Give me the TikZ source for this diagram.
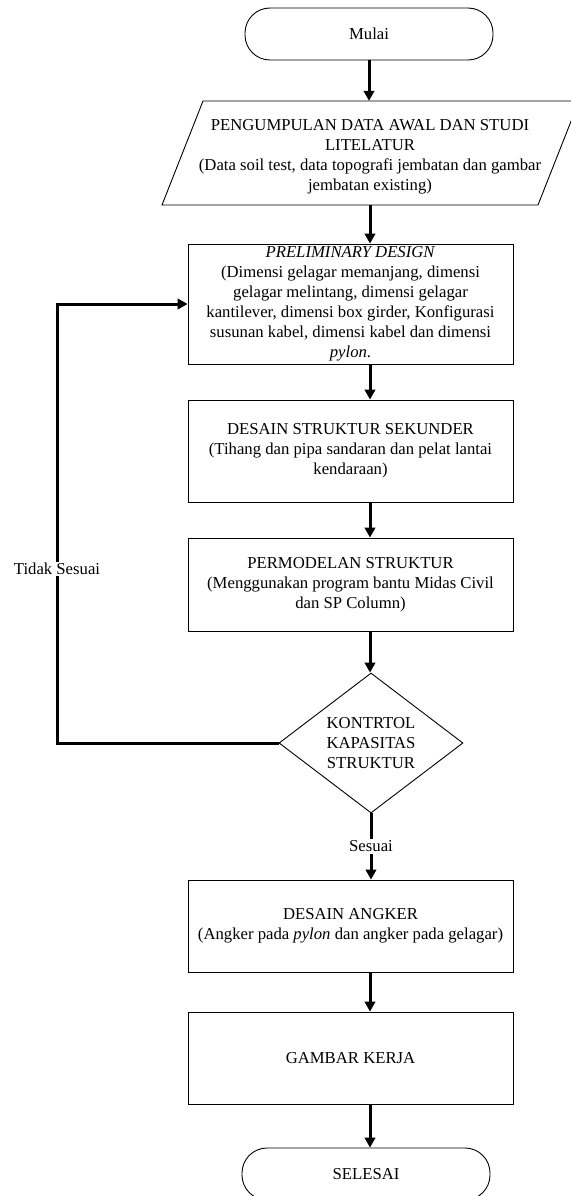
\documentclass[tikz,border=0pt]{standalone}
\usepackage{fontspec}
\setmainfont{Liberation Serif}
\usetikzlibrary{arrows.meta,shapes.geometric}
\begin{document}
\begin{tikzpicture}[x=1pt,y=-1pt,
  every node/.style={font=\fontsize{16.7}{20}\selectfont, align=center},
  procbox/.style={draw, line width=0.9pt, minimum width=325pt, inner sep=0pt},
  termbox/.style={draw, line width=0.9pt, rounded corners=25pt, minimum width=248pt, minimum height=52pt, inner sep=0pt},
  decbox/.style={draw, line width=0.9pt, diamond, aspect=1.314, minimum width=184pt, minimum height=140pt, inner sep=0pt},
  conn/.style={line width=3pt, -{Triangle[length=10pt,width=10.5pt]}},
  lbl/.style={fill=white, inner sep=1.5pt}
]
\useasboundingbox (0,0) rectangle (570,1196);
\fill[white] (0,0) rectangle (570,1196);

% nodes
\node[termbox] (mulai) at (369,34) {Mulai};
\draw[line width=0.9pt] (162,205) -- (203,101) -- (579,101) -- (538,205) -- cycle;
\node[minimum height=104pt, minimum width=10pt, inner sep=0pt] (para) at (370,153) {};
\node[inner sep=0pt] (paratxt) at (370,157)
  {PENGUMPULAN DATA AWAL DAN STUDI\\ LITELATUR\\ (Data soil test, data topografi jembatan dan gambar\\ jembatan existing)};
\node[procbox, minimum height=120pt] (prelim) at (350.5,304)
  {\textit{PRELIMINARY DESIGN}\\ (Dimensi gelagar memanjang, dimensi\\ gelagar melintang, dimensi gelagar\\ kantilever, dimensi box girder, Konfigurasi\\ susunan kabel, dimensi kabel dan dimensi\\ \textit{pylon}.};
\node[procbox, minimum height=102pt] (sek) at (350.5,451)
  {DESAIN STRUKTUR SEKUNDER\\ (Tihang dan pipa sandaran dan pelat lantai\\ kendaraan)};
\node[procbox, minimum height=93pt] (model) at (350.5,584.5)
  {PERMODELAN STRUKTUR\\ (Menggunakan program bantu Midas Civil\\ dan SP Column)};
\node[decbox] (dec) at (371,743) {KONTRTOL\\ KAPASITAS\\ STRUKTUR};
\node[procbox, minimum height=92pt] (angker) at (350.5,926)
  {DESAIN ANGKER\\ (Angker pada \textit{pylon} dan angker pada gelagar)};
\node[procbox, minimum height=92pt] (gambar) at (350.5,1058) {GAMBAR KERJA};
\node[termbox] (selesai) at (366,1174) {SELESAI};

\coordinate (ax) at (370,0);
\coordinate (fb) at (57,743);

% connectors
\draw[conn] (mulai.south) -- (mulai.south |- para.north);
\draw[conn] (para.south) -- (para.south |- prelim.north);
\draw[conn] (prelim.south -| ax) -- (sek.north -| ax);
\draw[conn] (sek.south -| ax) -- (model.north -| ax);
\draw[conn] (model.south -| ax) -- (dec.north -| ax);
\draw[conn] (dec.south) -- (dec.south |- angker.north)
  node[midway, lbl] (sesuai) {Sesuai};
\draw[conn] (angker.south -| ax) -- (gambar.north -| ax);
\draw[conn] (gambar.south -| ax) -- (selesai.north -| ax);
\draw[conn] (dec.west) -- (fb) -- (fb |- prelim.west) -- (prelim.west);
\node[lbl] (tidak) at (57,569) {Tidak Sesuai};
\end{tikzpicture}
\end{document}
